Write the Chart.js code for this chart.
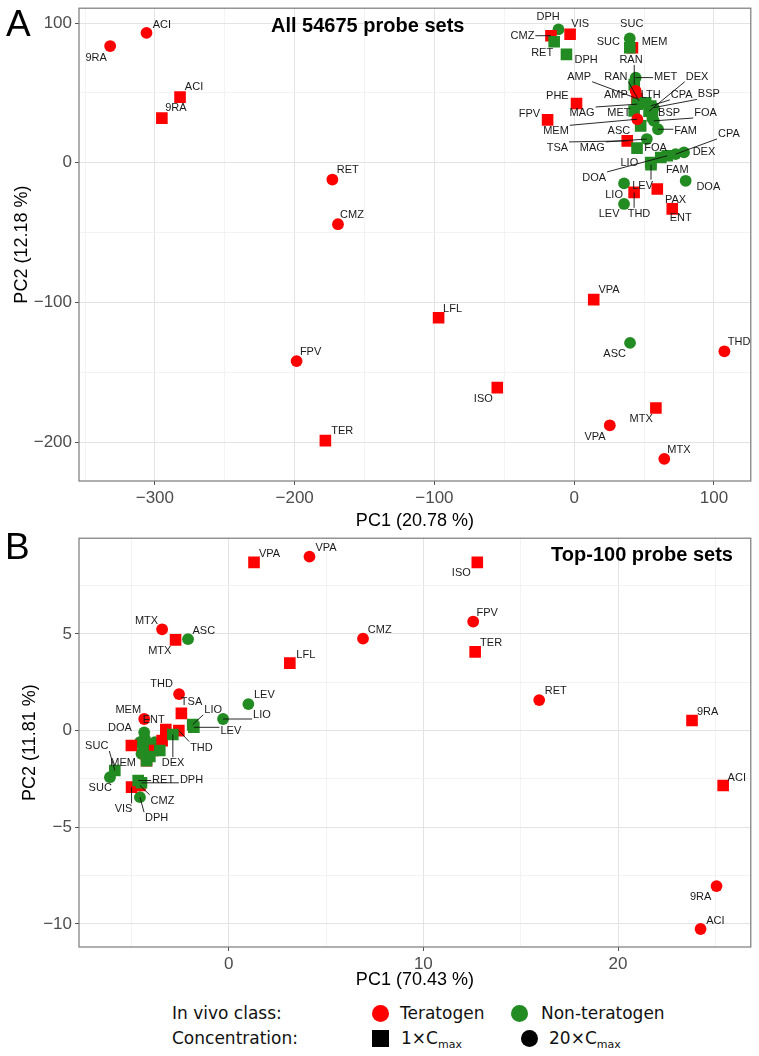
<!DOCTYPE html>
<html>
<head>
<meta charset="utf-8">
<script src="https://cdn.jsdelivr.net/npm/chart.js@4.4.1/dist/chart.umd.min.js"></script>
<style>
  body { margin: 0; background: #fff; width: 759px; height: 1056px; position: relative; overflow: hidden;
         font-family: "Liberation Sans", Arial, sans-serif; }
  canvas { position: absolute; left: 0; }
  #chartA { top: 0; }
  #chartB { top: 530px; }
  .letter { position: absolute; font-size: 37px; line-height: 37px; color: #000; }
  .ttl { position: absolute; font-weight: bold; font-size: 20px; line-height: 20px; color: #000; white-space: nowrap; }
  .leg { position: absolute; font-family: "DejaVu Sans", sans-serif; font-size: 17px; line-height: 20px; color: #111; white-space: nowrap; }
  .leg sub { font-size: 11px; vertical-align: -4px; }
  .dot { position: absolute; width: 17px; height: 17px; border-radius: 50%; }
  .sq { position: absolute; width: 17px; height: 17px; }
</style>
</head>
<body>
<canvas id="chartA" width="759" height="536"></canvas>
<canvas id="chartB" width="759" height="465"></canvas>

<div class="letter" style="left:6px;top:5px">A</div>
<div class="letter" style="left:5px;top:528px">B</div>
<div class="ttl" style="left:271px;top:15px">All 54675 probe sets</div>
<div class="ttl" style="right:26px;top:544px">Top-100 probe sets</div>

<div class="leg" style="left:172px;top:1003px">In vivo class:</div>
<span class="dot" style="left:372px;top:1005px;background:#ff0000"></span>
<div class="leg" style="left:400px;top:1003px">Teratogen</div>
<span class="dot" style="left:511px;top:1005px;background:#228b22"></span>
<div class="leg" style="left:541px;top:1003px">Non-teratogen</div>
<div class="leg" style="left:172px;top:1028px">Concentration:</div>
<span class="sq" style="left:372px;top:1030px;background:#000"></span>
<div class="leg" style="left:401px;top:1028px">1×C<sub>max</sub></div>
<span class="dot" style="left:521px;top:1030px;background:#000"></span>
<div class="leg" style="left:549px;top:1028px">20×C<sub>max</sub></div>

<script>
// ---- panel A : all 54675 probe sets ----
var namesA = ['9RA','ACI','ACI','9RA','RET','CMZ','LFL','FPV','TER','ISO','VPA','ASC','THD','MTX','VPA','MTX',
  'DPH','VIS','CMZ','RET','DPH','SUC','MEM','SUC','MET','RAN','RAN','AMP','AMP','MET','MAG','LTH','CPA','DEX','BSP','BSP',
  'FOA','MEM','ASC','FAM','TSA','MAG','FOA','LIO','FAM','DOA','CPA','DEX','LEV','LIO','LEV','THD','PAX','ENT','DOA','PHE','FPV'];
var pc1A = [-332,-306,-282,-295,-173,-169,-97,-198.6,-178,-55,14,40,107.5,58.5,25.5,64.5,
  -11.2,-2.9,-16.6,-14.3,-5.5,39.8,41.7,39.8,44,43,46.4,44,45,42.9,45.2,51.2,54.8,53.6,57,56,
  57,45.2,47.6,60,38,52,45,54.8,62,66.6,72.6,78.6,55,35.7,35.7,42.9,59.5,70.2,79.8,1.7,-19];
var pc2A = [83.6,93,47,32,-12,-44,-111,-142,-199,-161,-98,-129,-135,-175.6,-188,-212,
  95.5,92,91,86.7,77.6,89,82.4,82.4,61,56,44.3,51.4,46,37.1,42,43,40.7,37,39.5,33.6,
  30,31.2,26.4,24,15.7,17,10.5,0.2,3.8,5,6.2,7.4,-1.4,-14.8,-29.5,-21.2,-18.8,-33,-12.9,42.4,30.7];
var classA = ['T','T','T','T','T','T','T','T','T','T','T','N','T','T','T','T',
  'N','T','T','N','N','N','T','N','N','N','N','T','T','N','N','N','N','N','N','N',
  'N','T','N','N','T','N','N','N','N','N','N','N','N','N','N','T','T','T','N','T','T'];
var concA = [20,20,1,1,20,20,1,20,1,1,1,20,20,1,20,20,
  20,1,1,1,1,20,1,1,20,1,20,20,1,1,1,1,1,1,20,1,
  20,20,1,20,1,20,1,1,1,1,20,20,1,20,20,1,1,1,20,1,1];
var labPc1A = [-342,-295,-272,-285,-162,-159,-87,-188.6,-166,-65,25,29,118,48,15,75,
  -18.6,4.3,-37,-22.9,8.6,41.2,57.5,24.5,65.5,40.7,29.8,29.8,3.6,32,5.7,54.8,77,88,96.4,67.9,
  94,-13,32,79.8,-12,13,58.3,39.5,73.8,14.3,110.7,92.9,49,28.6,25,46.4,72.6,76.2,96,-12,-32];
var labPc2A = [75.7,99.3,54.3,39.3,-5,-37,-104,-135,-192,-168.6,-90.7,-136.4,-128,-183,-195.7,-205,
  104.5,99.5,91.4,78.8,74,99.5,86.6,86.6,62,74,62,49,62,36,36,49,49,62,49.3,36,
  36,22.9,22.9,22.9,11,11,11,0.2,-4.5,-10.5,21,8,-16,-22.9,-36.4,-36.2,-26,-39.3,-17,48.4,35.2];

// ---- panel B : top-100 probe sets ----
var namesB = ['VPA','VPA','ISO','FPV','TER','CMZ','LFL','ASC','RET','9RA','ACI','9RA','ACI','LEV','LIO','LEV','LIO',
  'MTX','MTX','THD','TSA','MEM','ENT','THD','DEX','DOA','MEM','SUC','SUC','RET','DPH','VIS','CMZ','DPH',
  '','','','','','','','','','','','','',''];
var pc1B = [1.3,4.15,12.77,12.56,12.66,6.9,3.14,-2.09,15.95,23.8,25.4,25.06,24.24,1.01,-0.29,-1.79,-1.85,
  -3.42,-2.73,-2.55,-2.43,-4.34,-3.23,-2.56,-2.87,-4.34,-4.22,-6.1,-5.85,-4.65,-4.48,-4.99,-4.56,-4.56,
  -4.31,-4.56,-4.05,-3.79,-3.63,-4.14,-4.48,-4.22,-4.05,-3.54,-4.4,-5.0,-3.88,-3.42];
var pc2B = [8.7,9.0,8.7,5.64,4.07,4.76,3.49,4.73,1.58,0.52,-2.84,-8.04,-10.26,1.37,0.6,0.17,0.31,
  5.24,4.69,1.89,0.89,0.6,0.05,0,-0.2,-0.09,-1.55,-2.41,-2.06,-2.58,-2.7,-2.92,-2.84,-3.44,
  -0.41,-0.6,-0.67,-0.6,-0.94,-1.29,-1.2,-1.55,-1.34,-1.03,-1.0,-0.77,-1.03,-0.52];
var classB = ['T','T','T','T','T','T','T','N','T','T','T','T','T','N','N','N','N',
  'T','T','T','T','T','T','T','N','N','T','N','N','N','N','T','T','N',
  'N','N','N','N','N','N','N','N','N','N','N','T','T','T'];
var concB = [1,20,1,20,1,20,1,20,20,1,1,20,20,20,20,1,1,
  20,1,20,1,20,1,1,1,20,1,20,1,1,1,1,1,20,
  20,20,20,20,20,20,20,1,1,1,1,1,1,1];
var labPc1B = [2.1,5.0,11.95,13.28,13.48,7.76,3.96,-1.28,16.8,24.6,26.1,24.24,25.0,1.83,1.71,0.11,-0.8,
  -4.22,-3.54,-3.45,-1.91,-5.16,-3.85,-1.4,-2.86,-5.59,-5.42,-6.6,-6.78,-3.37,-1.91,-5.4,-3.4,-3.7];
var labPc2B = [9.14,9.45,8.16,6.1,4.55,5.24,3.95,5.2,2.06,0.98,-2.4,-8.56,-9.8,1.86,0.86,0,1.1,
  5.67,4.16,2.44,1.51,1.08,0.6,-0.85,-1.66,0.17,-1.63,-2.92,-0.77,-2.54,-2.54,-4.05,-3.6,-4.5];

var FONT = '"Liberation Sans", Arial, sans-serif';
var RED = '#ff0000', GREEN = '#228b22';

function fmt(v) {
  v = Math.round(v);
  return v < 0 ? '\u2212' + Math.abs(v) : String(v);
}

function isMajor(v, major) {
  var q = v / major;
  return Math.abs(q - Math.round(q)) < 1e-6;
}

// drawing order: first dataset ends on top
function buildSets(cls, conc, pc1, pc2) {
  var groups = [['T', 20, RED, 'circle'], ['N', 1, GREEN, 'rect'], ['T', 1, RED, 'rect'], ['N', 20, GREEN, 'circle']];
  return groups.map(function (g) {
    var pts = [];
    pc1.forEach(function (v, i) {
      if (cls[i] === g[0] && conc[i] === g[1]) pts.push({x: v, y: pc2[i]});
    });
    return {
      data: pts,
      backgroundColor: g[2],
      borderWidth: 0,
      pointStyle: g[3],
      pointRadius: g[3] === 'rect' ? 8.2 : 5.9,
      pointHoverRadius: g[3] === 'rect' ? 8.2 : 5.9
    };
  });
}

function axis(min, max, step, major, title, isX, fitSize) {
  return {
    type: 'linear', min: min, max: max,
    title: {display: true, text: title, color: '#000', font: {size: 18, family: FONT}, padding: {top: 4, bottom: 4}},
    ticks: {
      stepSize: step, autoSkip: false, maxRotation: 0, includeBounds: false, color: '#4d4d4d', padding: 3,
      font: {size: 17, family: FONT},
      callback: function (v) { return isMajor(v, major) ? fmt(v) : ''; }
    },
    grid: {
      color: function (c) { return isMajor(c.tick.value, major) ? '#e3e3e3' : '#f0f0f0'; },
      lineWidth: function (c) { return isMajor(c.tick.value, major) ? 1 : 0.8; },
      tickLength: 4,
      tickColor: function (c) { return isMajor(c.tick.value, major) ? '#555' : 'rgba(0,0,0,0)'; }
    },
    border: {display: false},
    afterFit: function (s) {
      if (isX) s.height = fitSize; else s.width = fitSize;
      s.paddingTop = 0; s.paddingBottom = 0; s.paddingLeft = 0; s.paddingRight = 0;
    }
  };
}

function labelPlugin(names, pc1, pc2, lx, ly) {
  return {
    id: 'pointLabels',
    beforeDatasetsDraw: function (chart) {
      var a = chart.chartArea, ctx = chart.ctx;
      ctx.save();
      ctx.strokeStyle = '#7a7a7a';
      ctx.lineWidth = 1.2;
      ctx.strokeRect(a.left, a.top, a.right - a.left, a.bottom - a.top);
      ctx.restore();
    },
    afterDatasetsDraw: function (chart) {
      var ctx = chart.ctx, xs = chart.scales.x, ys = chart.scales.y;
      ctx.save();
      ctx.font = '11px ' + FONT;
      ctx.textAlign = 'center';
      ctx.textBaseline = 'middle';
      names.forEach(function (nm, i) {
        if (!nm) return;
        var px = xs.getPixelForValue(pc1[i]), py = ys.getPixelForValue(pc2[i]);
        var tx = xs.getPixelForValue(lx[i]), ty = ys.getPixelForValue(ly[i]);
        var hw = ctx.measureText(nm).width / 2 + 1, hh = 5.5;
        var qx = Math.max(tx - hw, Math.min(px, tx + hw));
        var qy = Math.max(ty - hh, Math.min(py, ty + hh));
        if (Math.hypot(qx - px, qy - py) > 12) {
          ctx.strokeStyle = '#111';
          ctx.lineWidth = 0.9;
          ctx.beginPath();
          ctx.moveTo(px, py);
          ctx.lineTo(qx, qy);
          ctx.stroke();
        }
        ctx.fillStyle = '#1a1a1a';
        ctx.fillText(nm, tx, ty + 0.5);
      });
      ctx.restore();
    }
  };
}

function makeChart(id, sets, xAxis, yAxis, pad, plugin) {
  return new Chart(document.getElementById(id), {
    type: 'scatter',
    data: {datasets: sets},
    options: {
      responsive: false,
      animation: false,
      events: [],
      layout: {padding: pad},
      scales: {x: xAxis, y: yAxis},
      plugins: {legend: {display: false}, tooltip: {enabled: false}}
    },
    plugins: [plugin]
  });
}

makeChart('chartA', buildSets(classA, concA, pc1A, pc2A),
  axis(-354.3, 126.4, 50, 100, 'PC1 (20.78 %)', true, 55),
  axis(-227.9, 110.7, 50, 100, 'PC2 (12.18 %)', false, 72),
  {left: 7, right: 7, top: 7, bottom: 0},
  labelPlugin(namesA, pc1A, pc2A, labPc1A, labPc2A));

makeChart('chartB', buildSets(classB, concB, pc1B, pc2B),
  axis(-7.69, 26.82, 5, 10, 'PC1 (70.43 %)', true, 48),
  axis(-11.19, 9.95, 2.5, 5, 'PC2 (11.81 %)', false, 64),
  {left: 15, right: 7, top: 7, bottom: 0},
  labelPlugin(namesB, pc1B, pc2B, labPc1B, labPc2B));
</script>
</body>
</html>
